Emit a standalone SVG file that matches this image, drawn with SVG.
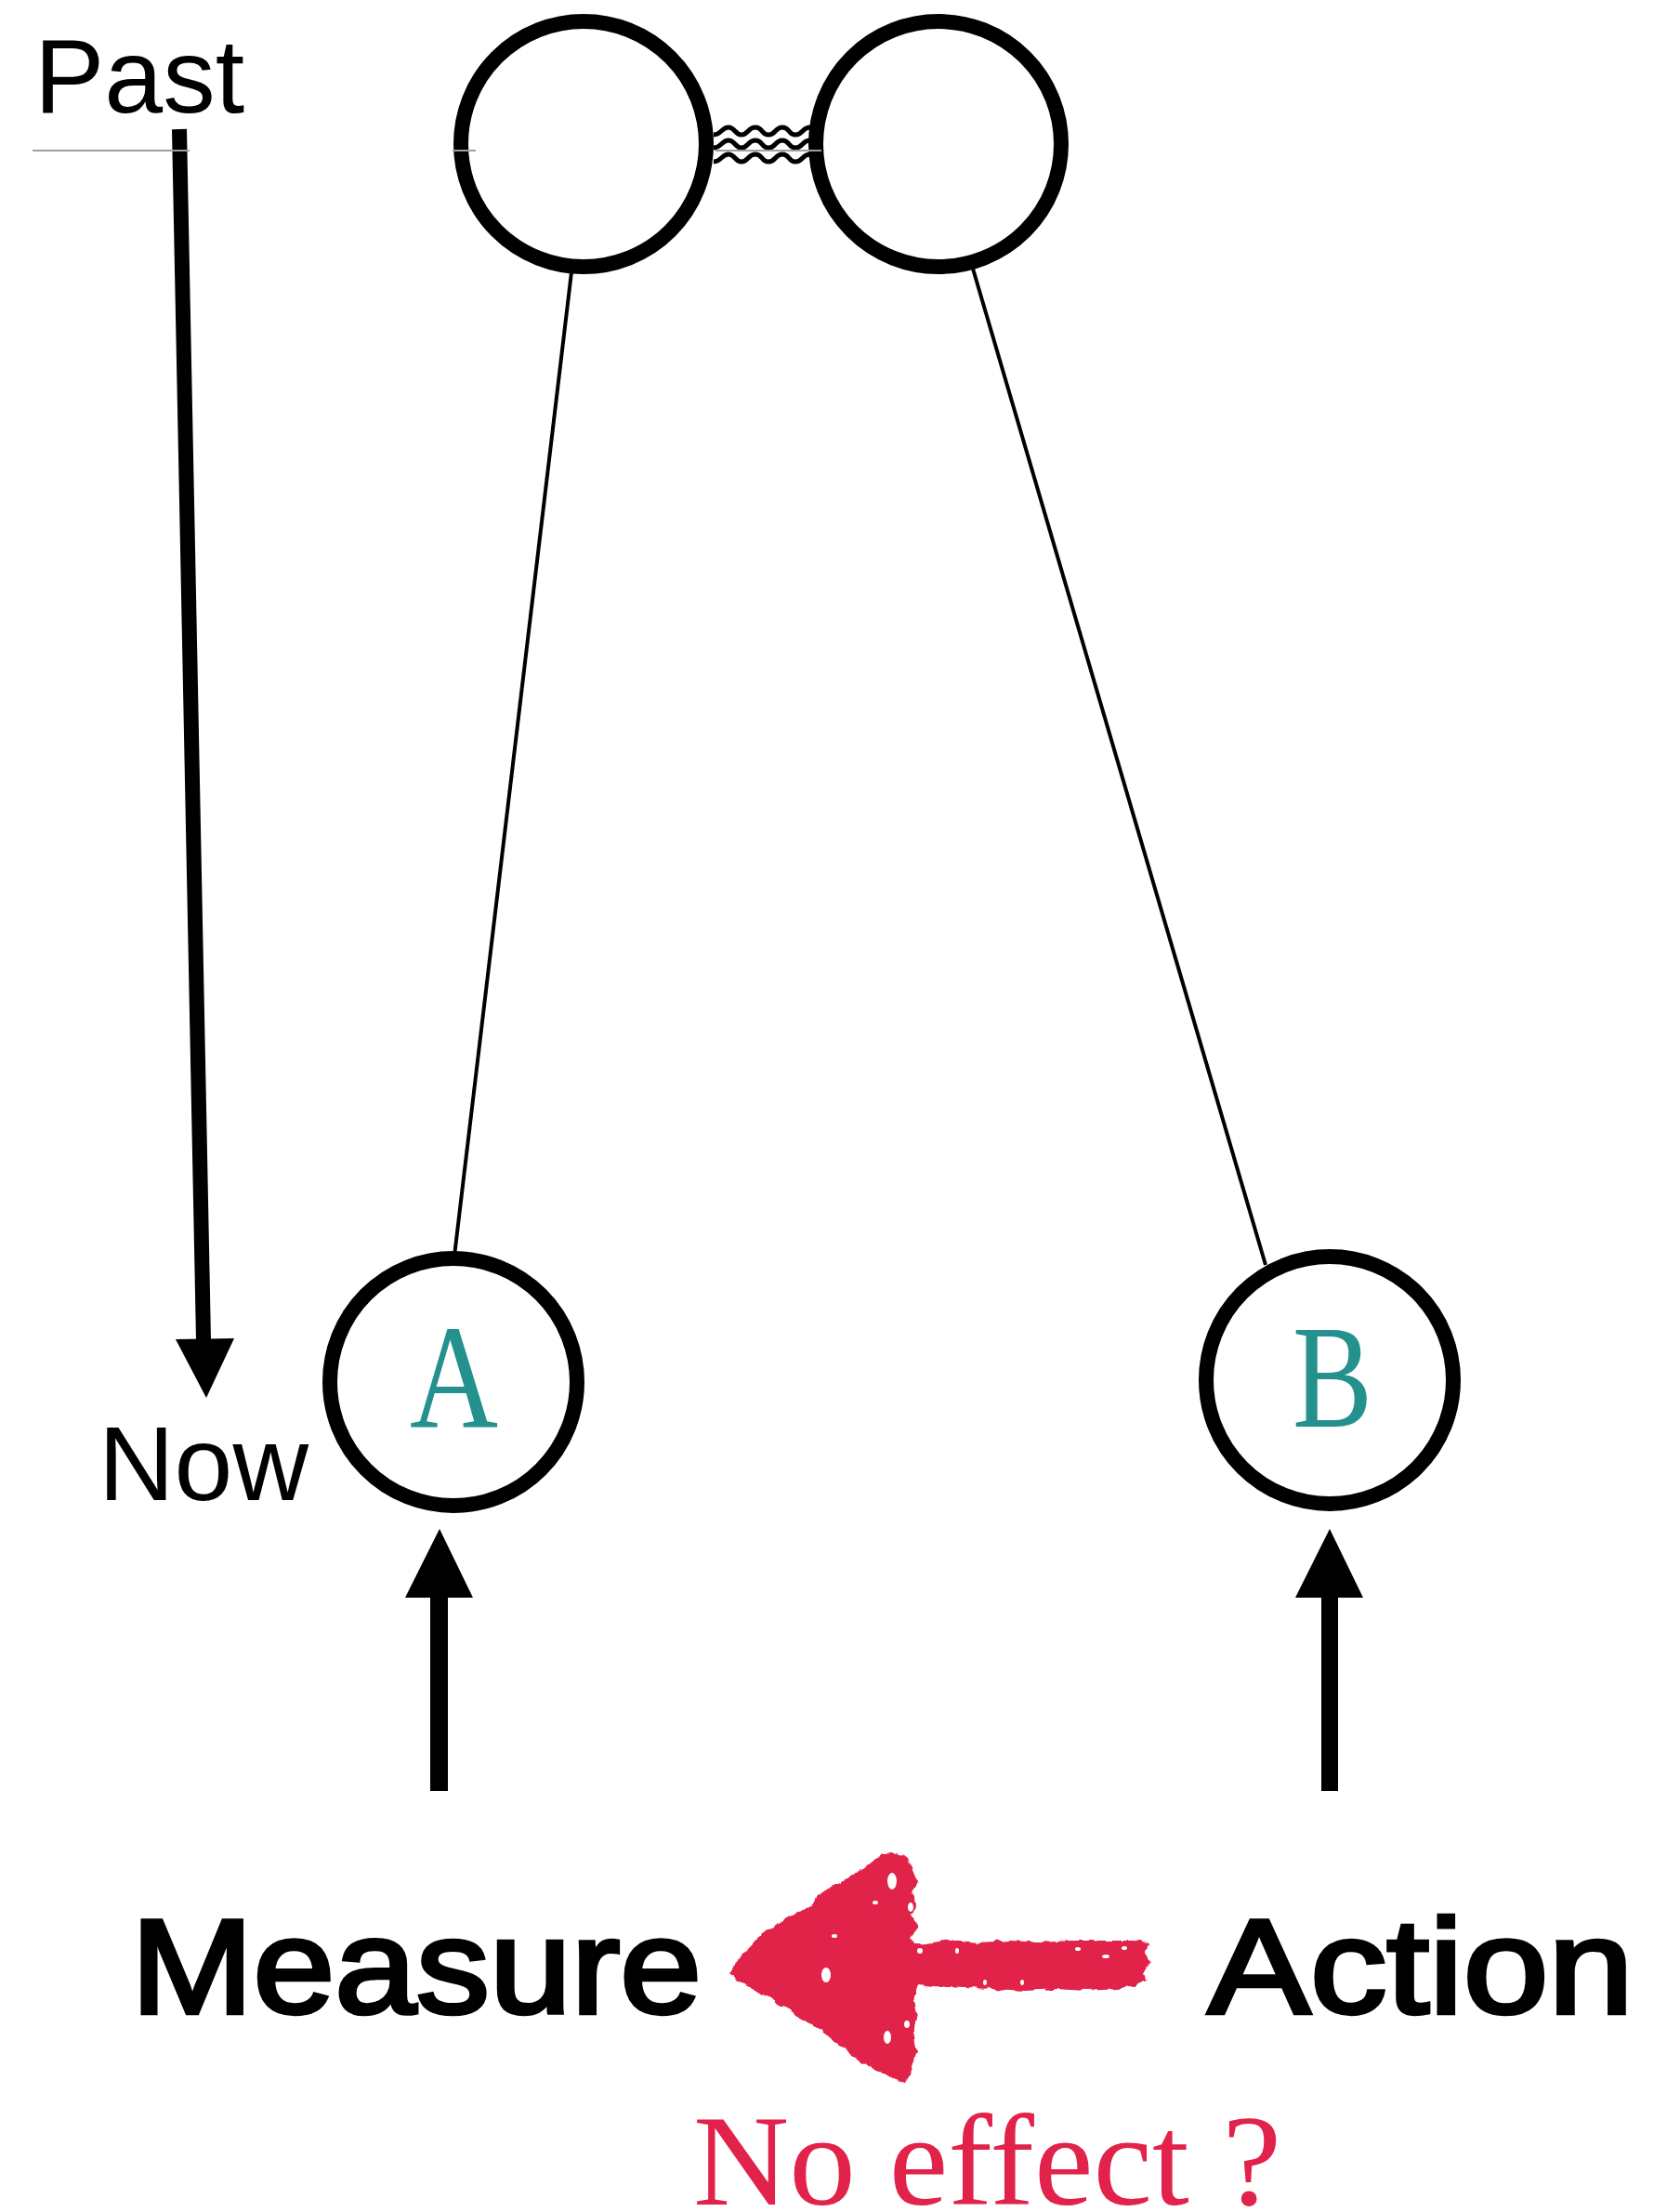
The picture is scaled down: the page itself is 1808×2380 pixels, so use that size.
<svg xmlns="http://www.w3.org/2000/svg" width="1808" height="2380" viewBox="0 0 1808 2380">
  <defs>
    <style>
      .lbl { font-family: "Liberation Sans", Arial, sans-serif; fill: #000; }
      .big { font-family: "Liberation Sans", Arial, sans-serif; font-size: 144px; fill: #000; stroke: #000; stroke-width: 4.5; stroke-linejoin: miter; }
      .ser { font-family: "Liberation Serif", "Times New Roman", serif; }
      .node { fill: #fff; stroke: #000; stroke-width: 16; }
      .thin { stroke: #000; stroke-width: 4; fill: none; }
      .wave { stroke: #000; stroke-width: 5; fill: none; }
      .grey { stroke: #a0a0a0; stroke-width: 2; }
      .teal { fill: #24918e; }
      .red { fill: #e1224a; }
    </style>
    <filter id="rough" x="-5%" y="-5%" width="110%" height="110%">
      <feTurbulence type="fractalNoise" baseFrequency="0.09" numOctaves="2" seed="3" result="n"/>
      <feDisplacementMap in="SourceGraphic" in2="n" scale="7" xChannelSelector="R" yChannelSelector="G"/>
    </filter>
  </defs>

  <g id="past-label">
    <text class="lbl" x="37" y="121" font-size="113">Past</text>
  </g>

  <g id="now-label">
    <text class="lbl" x="106" y="1614" font-size="113">Now</text>
  </g>

  <g id="time-arrow">
    <line x1="193" y1="139" x2="219" y2="1442" stroke="#000" stroke-width="16"/>
    <polygon points="189,1441 252,1440 222,1504" fill="#000"/>
  </g>

  <g id="grey-line">
    <line class="grey" x1="35" y1="162" x2="204" y2="162"/>
  </g>

  <g id="connectors">
    <line class="thin" x1="617" y1="276" x2="487" y2="1368"/>
    <line class="thin" x1="1047" y1="289" x2="1362" y2="1361"/>
    <g id="entangle">
      <path class="wave" d="M768,145 C776,145 777,137 784,137 S791,145 798,145 S805,137 813,137 S819,145 827,145 S834,137 842,137 S848,145 856,145 S863,137 872,137"/>
      <path class="wave" d="M768,159 C776,159 777,151 784,151 S791,159 798,159 S805,151 813,151 S819,159 827,159 S834,151 842,151 S848,159 856,159 S863,151 872,151"/>
      <path class="wave" d="M768,174 C776,174 777,166 784,166 S791,174 798,174 S805,166 813,166 S819,174 827,174 S834,166 842,166 S848,174 856,174 S863,166 872,166"/>
    </g>
  </g>

  <g id="source-left">
    <circle class="node" cx="628" cy="155" r="132"/>
  </g>
  <g id="source-right">
    <circle class="node" cx="1010" cy="155" r="132"/>
  </g>
  <g id="grey-segments">
    <line class="grey" x1="487" y1="162" x2="512" y2="162"/>
    <line class="grey" x1="770" y1="162" x2="884" y2="162"/>
  </g>

  <g id="node-A">
    <circle class="node" cx="488" cy="1487" r="133"/>
    <text class="ser teal" x="441" y="1535" font-size="158" textLength="95" lengthAdjust="spacingAndGlyphs">A</text>
  </g>

  <g id="node-B">
    <circle class="node" cx="1431" cy="1485" r="133"/>
    <text class="ser teal" x="1391" y="1535" font-size="158" textLength="86" lengthAdjust="spacingAndGlyphs">B</text>
  </g>

  <g id="arrow-measure">
    <rect x="463" y="1718" width="19" height="209" fill="#000"/>
    <polygon points="436,1719 509,1719 473,1645" fill="#000"/>
  </g>
  <g id="arrow-action">
    <rect x="1422" y="1718" width="18" height="209" fill="#000"/>
    <polygon points="1394,1719 1467,1719 1431,1645" fill="#000"/>
  </g>

  <g id="measure-label">
    <text class="big" x="141" y="2166" textLength="614" lengthAdjust="spacingAndGlyphs">Measure</text>
  </g>
  <g id="action-label">
    <text class="big" x="1300" y="2166" textLength="458" lengthAdjust="spacingAndGlyphs">Action</text>
  </g>

  <g id="red-arrow">
    <path class="red" filter="url(#rough)" d="M785,2125 L790,2113 L802,2100 L812,2090 L820,2080 L832,2073 L842,2067 L847,2062 L860,2058 L870,2052 L880,2040 L890,2033 L903,2027 L917,2017 L930,2010 L940,2003 L950,1993 L960,1992 L972,1995 L978,2000 L983,2013 L987,2023 L983,2033 L985,2050 L982,2060 L987,2073 L980,2087 L983,2093 L1003,2090 L1023,2087 L1053,2090 L1087,2088 L1120,2090 L1153,2088 L1187,2088 L1220,2088 L1235,2090 L1232,2100 L1237,2110 L1230,2123 L1235,2130 L1223,2137 L1203,2140 L1170,2142 L1137,2140 L1103,2142 L1070,2140 L1037,2139 L1003,2137 L987,2135 L983,2147 L987,2167 L983,2187 L987,2207 L983,2220 L980,2233 L973,2240 L963,2238 L955,2233 L943,2227 L930,2220 L917,2210 L903,2200 L890,2190 L877,2180 L860,2170 L843,2160 L827,2150 L810,2140 L797,2132 Z"/>
    <g fill="#fff">
      <ellipse cx="960" cy="2024" rx="5" ry="9"/>
      <ellipse cx="889" cy="2125" rx="5" ry="8"/>
      <ellipse cx="955" cy="2192" rx="4" ry="7"/>
      <ellipse cx="976" cy="2178" rx="3" ry="4"/>
      <ellipse cx="980" cy="2052" rx="3" ry="5"/>
      <ellipse cx="898" cy="2083" rx="3" ry="2"/>
      <ellipse cx="942" cy="2047" rx="3" ry="2"/>
      <ellipse cx="1160" cy="2097" rx="3" ry="2"/>
      <ellipse cx="1190" cy="2105" rx="4" ry="2"/>
      <ellipse cx="1210" cy="2096" rx="3" ry="2"/>
      <ellipse cx="990" cy="2099" rx="3" ry="3"/>
      <ellipse cx="1030" cy="2099" rx="2" ry="3"/>
      <ellipse cx="1060" cy="2133" rx="2" ry="3"/>
      <ellipse cx="1100" cy="2133" rx="2" ry="3"/>
    </g>
  </g>

  <g id="no-effect-label">
    <text class="ser red" x="746" y="2372" font-size="140" textLength="633" lengthAdjust="spacingAndGlyphs">No effect ?</text>
  </g>
</svg>
